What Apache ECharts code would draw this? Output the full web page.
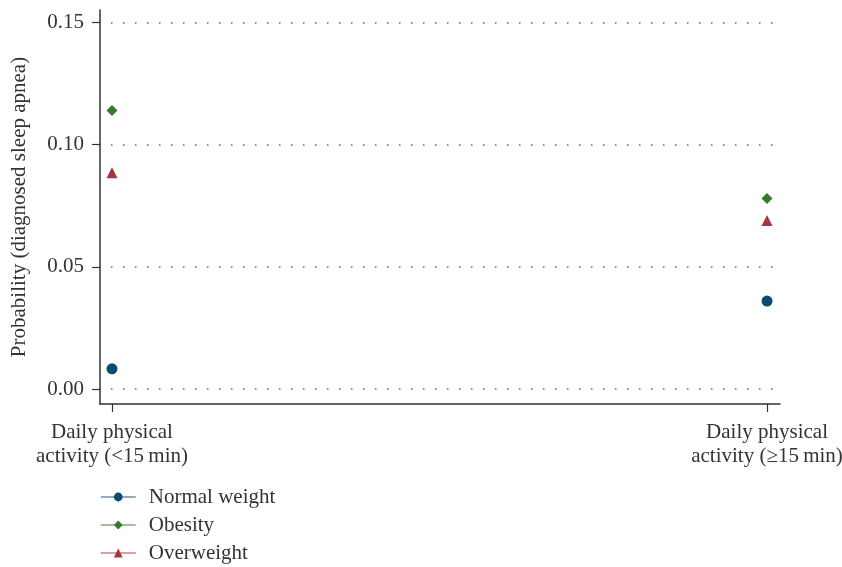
<!DOCTYPE html>
<html>
<head>
<meta charset="utf-8">
<script src="https://cdn.jsdelivr.net/npm/echarts@6/dist/echarts.min.js"></script>
<style>
  html, body { margin: 0; padding: 0; background: #fff; }
  #chart { width: 842px; height: 567px; }
</style>
</head>
<body>
<div id="chart"></div>
<script>
// categories on the x axis (positions 0 and 1)
const categories = ['Daily physical\nactivity (<15\u2009min)', 'Daily physical\nactivity (\u226515\u2009min)'];
const categoryPos = [0, 1];

// predicted probabilities per weight group
const normalWeight = [0.0083, 0.036];
const obesity = [0.114, 0.078];
const overweight = [0.0885, 0.069];

const yTicks = [0, 0.05, 0.1, 0.15];

const FONT = 'Liberation Serif';
const AXIS_COLOR = '#333';

function pairs(values) {
  return categoryPos.map((x, i) => [x, values[i]]);
}

const seriesDefs = [
  { name: 'Normal weight', data: normalWeight, symbol: 'circle', size: 11, color: '#0d4a72', legendLine: '#6d8fb0' },
  { name: 'Obesity', data: obesity, symbol: 'diamond', size: 11, color: '#357a2b', legendLine: '#7fae76' },
  { name: 'Overweight', data: overweight, symbol: 'triangle', size: 11, color: '#a8343f', legendLine: '#c98088' }
];

const chart = echarts.init(document.getElementById('chart'), null, { renderer: 'canvas' });

chart.setOption({
  backgroundColor: '#fff',
  animation: false,
  textStyle: { fontFamily: FONT },
  grid: { left: 100, right: 62, top: 10, bottom: 163, containLabel: false, outerBoundsMode: 'none' },
  xAxis: {
    type: 'value',
    min: -0.0183,
    max: 1.0198,
    axisLine: { show: true, onZero: false, lineStyle: { color: AXIS_COLOR, width: 1.5 } },
    axisTick: { show: true, customValues: categoryPos, length: 8, lineStyle: { color: AXIS_COLOR, width: 1.2 } },
    axisLabel: {
      customValues: categoryPos,
      formatter: v => categories[Math.round(v)],
      color: '#333',
      fontFamily: FONT,
      fontSize: 21,
      lineHeight: 24,
      margin: 16,
      align: 'center'
    },
    splitLine: { show: false }
  },
  yAxis: {
    type: 'value',
    min: -0.0061,
    max: 0.1551,
    name: 'Probability (diagnosed sleep apnea)',
    nameLocation: 'middle',
    nameGap: 70,
    nameTextStyle: { fontFamily: FONT, fontSize: 21, color: '#333' },
    axisLine: { show: true, onZero: false, lineStyle: { color: AXIS_COLOR, width: 1.5 } },
    axisTick: { show: true, customValues: yTicks, length: 8, lineStyle: { color: AXIS_COLOR, width: 1.2 } },
    axisLabel: {
      customValues: yTicks,
      formatter: v => v.toFixed(2),
      color: '#333',
      fontFamily: FONT,
      fontSize: 21,
      margin: 16
    },
    splitLine: {
      show: true,
      lineStyle: { color: '#666', width: 1.5, type: [1.5, 10.5], dashOffset: -11 }
    }
  },
  legend: {
    orient: 'vertical',
    left: 100,
    top: 486,
    padding: 0,
    itemWidth: 35,
    itemHeight: 11,
    itemGap: 6,
    textStyle: { fontFamily: FONT, fontSize: 21, lineHeight: 22, color: '#333', padding: [0, 0, 0, 8] },
    data: seriesDefs.map(s => ({
      name: s.name,
      itemStyle: { color: s.color },
      lineStyle: { color: s.legendLine, width: 1.5, opacity: 1 }
    }))
  },
  series: seriesDefs.map(s => ({
    name: s.name,
    type: 'line',
    data: pairs(s.data),
    symbol: s.symbol,
    symbolSize: s.size,
    itemStyle: { color: s.color },
    lineStyle: { opacity: 0, color: s.legendLine },
    showSymbol: true
  }))
});
</script>
</body>
</html>
